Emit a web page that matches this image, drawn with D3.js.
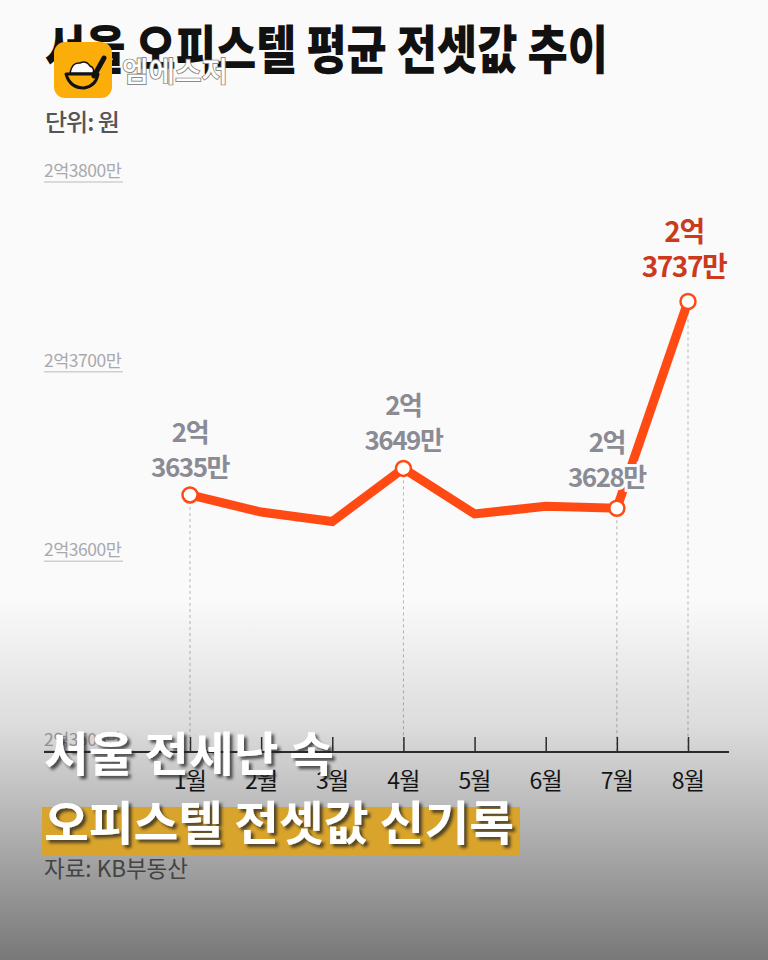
<!DOCTYPE html>
<html>
<head>
<meta charset="utf-8">
<script src="https://cdn.jsdelivr.net/npm/d3@7"></script>
<style>
  html, body { margin: 0; padding: 0; background: #fafafa; }
  svg { display: block; font-family: "Noto Sans CJK KR", "Noto Sans", sans-serif; }
</style>
</head>
<body>
<svg id="chart" width="768" height="960"></svg>
<script>
// ---- data ----
const months = ["1월", "2월", "3월", "4월", "5월", "6월", "7월", "8월"];
const values = [3635, 3626, 3621, 3649, 3625, 3629, 3628, 3737]; // 만원 above 2억
const labeledMonths = ["1월", "4월", "7월", "8월"];
const highlightMonth = "8월";
const yTicks = [3500, 3600, 3700, 3800];
const titleText = "서울 오피스텔 평균 전셋값 추이";
const unitText = "단위: 원";
const sourceText = "자료: KB부동산";
const brandText = "엠에스저";
const headline1 = "서울 전세난 속";
const headline2 = "오피스텔 전셋값 신기록";

const W = 768, H = 960;
const svg = d3.select("#chart");

const defs = svg.append("defs");
const grad = defs.append("linearGradient").attr("id", "fade").attr("x1", 0).attr("y1", 0).attr("x2", 0).attr("y2", 1);
[[0, 0], [0.35, 0.12], [0.65, 0.3], [1, 0.52]].forEach(([o, a]) =>
  grad.append("stop").attr("offset", o).attr("stop-color", "#000").attr("stop-opacity", a));
const sh = defs.append("filter").attr("id", "shadow").attr("x", "-10%").attr("y", "-20%").attr("width", "130%").attr("height", "160%");
sh.append("feDropShadow").attr("dx", 3).attr("dy", 3).attr("stdDeviation", 1.6)
  .attr("flood-color", "#222").attr("flood-opacity", 0.75);

// background
svg.append("rect").attr("width", W).attr("height", H).attr("fill", "#fafafa");

// scales
const x = d3.scalePoint().domain(months).range([190, 688]);
const y = d3.scaleLinear().domain([3500, 3800]).range([751, 182]);

// title
svg.append("text").attr("x", 45).attr("y", 69)
  .attr("textLength", 563).attr("lengthAdjust", "spacingAndGlyphs")
  .attr("font-size", 52).attr("font-weight", 900).attr("fill", "#111")
  .text(titleText);

// logo
const logo = svg.append("g");
logo.append("rect").attr("x", 54).attr("y", 42).attr("width", 58).attr("height", 56).attr("rx", 11).attr("fill", "#FBAE0A");
logo.append("path").attr("d", "M66,74 Q70,88 84,88 Q96,86 98,74 Z").attr("fill", "#FBAE0A").attr("stroke", "#111").attr("stroke-width", 3).attr("stroke-linejoin", "round");
logo.append("path").attr("d", "M70,73 Q72,62 80,63 Q86,60 90,66 Q95,68 93,73 Z").attr("fill", "#fff").attr("stroke", "#111").attr("stroke-width", 1.5);
logo.append("path").attr("d", "M94,76 L104,58").attr("stroke", "#111").attr("stroke-width", 5).attr("stroke-linecap", "round");
svg.append("text").attr("x", 122).attr("y", 82)
  .attr("textLength", 106).attr("lengthAdjust", "spacingAndGlyphs")
  .attr("font-size", 28).attr("font-weight", 500).attr("fill", "#fff")
  .attr("stroke", "#8a8a8a").attr("stroke-width", 1.8).attr("paint-order", "stroke")
  .text(brandText);

// unit
svg.append("text").attr("x", 45).attr("y", 131)
  .attr("font-size", 24).attr("font-weight", 500).attr("fill", "#555").attr("letter-spacing", -1)
  .text(unitText);

// y gridline labels with underline
const yg = svg.append("g");
yTicks.forEach(v => {
  yg.append("text").attr("x", 44).attr("y", y(v) - 5)
    .attr("font-size", 17.5).attr("fill", "#a9a9ad").attr("letter-spacing", -0.5)
    .text("2억" + v + "만");
  yg.append("line").attr("x1", 44).attr("x2", 123).attr("y1", y(v)).attr("y2", y(v))
    .attr("stroke", "#cfcfd2").attr("stroke-width", 1.5);
});

// dashed drop lines
const dataPts = months.map((m, i) => ({ m, v: values[i] }));
svg.append("g").selectAll("line").data(dataPts.filter(d => labeledMonths.includes(d.m))).join("line")
  .attr("x1", d => x(d.m)).attr("x2", d => x(d.m))
  .attr("y1", d => y(d.v)).attr("y2", 752)
  .attr("stroke", "#b5b5b8").attr("stroke-width", 1).attr("stroke-dasharray", "3,3");

// x axis
const axisY = 752;
const xAxis = d3.axisTop(x).tickSize(15).tickFormat("");
const ag = svg.append("g").attr("transform", `translate(0,${axisY})`).call(xAxis);
ag.select(".domain").remove();
ag.selectAll(".tick line").attr("stroke", "#333").attr("stroke-width", 1.5);
svg.append("line").attr("x1", 44).attr("x2", 729).attr("y1", axisY).attr("y2", axisY)
  .attr("stroke", "#333").attr("stroke-width", 1.8);
svg.append("g").selectAll("text").data(months).join("text")
  .attr("x", d => x(d)).attr("y", 789).attr("text-anchor", "middle")
  .attr("font-size", 23).attr("fill", "#1a1a1a").attr("letter-spacing", -0.8)
  .text(d => d);

// line
const lineGen = d3.line().x(d => x(d.m)).y(d => y(d.v));
svg.append("path").datum(dataPts).attr("d", lineGen)
  .attr("fill", "none").attr("stroke", "#FF4A14").attr("stroke-width", 9)
  .attr("stroke-linejoin", "miter");

// labels
const lg = svg.append("g");
dataPts.filter(d => labeledMonths.includes(d.m)).forEach(d => {
  const hi = d.m === highlightMonth;
  const dx = d.m === "7월" ? -10 : (hi ? -4 : 0);
  const off = hi ? 6 : (d.m === "7월" ? 3 : 0);
  const g = lg.append("g").attr("text-anchor", "middle")
    .attr("font-weight", 700).attr("font-size", hi ? 28 : 26)
    .attr("fill", hi ? "#CC3A1E" : "#8a8b95")
    .attr("stroke", "#fafafa").attr("stroke-width", 6).attr("paint-order", "stroke")
    .attr("letter-spacing", -1.5);
  g.append("text").attr("x", x(d.m) + dx).attr("y", y(d.v) - 53 - off).text("2억");
  g.append("text").attr("x", x(d.m) + dx).attr("y", y(d.v) - 18 - off).text(d.v + "만");
});

// circles
svg.append("g").selectAll("circle").data(dataPts.filter(d => labeledMonths.includes(d.m))).join("circle")
  .attr("cx", d => x(d.m)).attr("cy", d => y(d.v)).attr("r", 7.5)
  .attr("fill", "#fff").attr("stroke", "#FF4A14").attr("stroke-width", 2.5);

// bottom fade overlay
svg.append("rect").attr("x", 0).attr("y", 600).attr("width", W).attr("height", 360).attr("fill", "url(#fade)");

// source
svg.append("text").attr("x", 44).attr("y", 877)
  .attr("textLength", 144).attr("lengthAdjust", "spacingAndGlyphs")
  .attr("font-size", 23).attr("fill", "#444")
  .text(sourceText);

// headline overlay
svg.append("rect").attr("x", 42).attr("y", 807).attr("width", 478).attr("height", 49).attr("fill", "#D9A42B");
svg.append("text").attr("x", 44).attr("y", 771)
  .attr("textLength", 290).attr("lengthAdjust", "spacingAndGlyphs")
  .attr("font-size", 47).attr("font-weight", 700).attr("fill", "#fff")
  .attr("filter", "url(#shadow)").text(headline1);
svg.append("text").attr("x", 44).attr("y", 840)
  .attr("textLength", 470).attr("lengthAdjust", "spacingAndGlyphs")
  .attr("font-size", 47).attr("font-weight", 700).attr("fill", "#fff")
  .attr("filter", "url(#shadow)").text(headline2);
</script>
</body>
</html>
